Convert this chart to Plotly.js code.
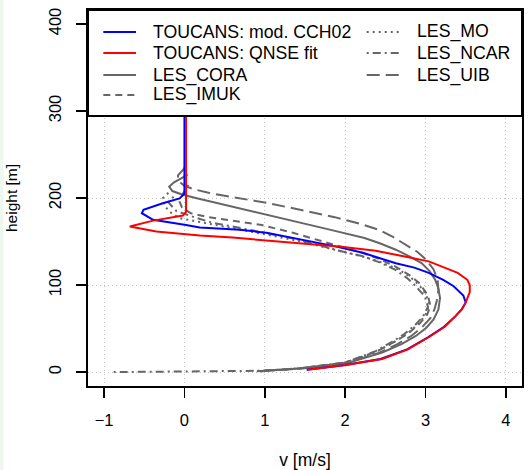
<!DOCTYPE html>
<html>
<head>
<meta charset="utf-8">
<script src="https://cdn.plot.ly/plotly-3.0.1.min.js"></script>
<style>html,body{margin:0;padding:0;background:#fff;}#chart{width:528px;height:470px;}</style>
</head>
<body>
<div id="chart"></div>
<script>
// ---- data ----
const xTicks = [-1, 0, 1, 2, 3, 4];
const yTicks = [0, 100, 200, 300, 400];

const hCORA = [1, 4.2, 11, 22.5, 32, 41.5, 51, 60.6, 72, 85, 96, 106, 116, 125.3, 133, 140.6, 148, 154, 163.4, 172, 180.6, 188, 195.8, 200, 204, 208, 213, 218, 222.5, 227];
const vCORA = [0.9, 1.43, 2.05, 2.46, 2.7, 2.88, 3.01, 3.1, 3.16, 3.18, 3.16, 3.12, 3.05, 2.95, 2.8, 2.63, 2.43, 2.24, 1.82, 1.42, 1.02, 0.66, 0.33, 0.14, -0.03, -0.15, -0.19, -0.13, -0.04, 0.04];

const hIMUK = [1, 4.5, 11, 24, 34, 44, 56, 66, 76, 88, 102.5, 112, 121.5, 130, 136.8, 144, 152, 160, 169, 174, 178, 182.5, 189, 195.8, 205, 215];
const vIMUK = [0.95, 1.45, 2.0, 2.4, 2.6, 2.78, 2.93, 3.02, 3.06, 3.03, 2.92, 2.79, 2.62, 2.42, 2.22, 1.95, 1.67, 1.35, 0.96, 0.6, 0.3, 0.08, -0.03, -0.06, -0.02, 0.05];

const hMO = [1, 4.5, 11, 24, 34, 44, 56, 66, 78, 90, 100, 110, 118, 126, 132, 141, 150, 158, 165, 172, 176.8, 182.5, 190, 199.6, 206];
const vMO = [0.95, 1.5, 2.05, 2.4, 2.6, 2.77, 2.92, 3.0, 3.05, 3.0, 2.92, 2.8, 2.66, 2.45, 2.25, 1.85, 1.45, 1.02, 0.6, 0.2, -0.06, -0.16, -0.24, -0.27, -0.2];

const hNCAR = [0, 1.5, 4.5, 11, 24, 34, 44, 54, 64, 75, 87, 98.6, 108, 117.7, 126, 133, 140, 148, 155, 161, 167, 172, 178, 185, 195, 205];
const vNCAR = [-0.88, 0.95, 1.45, 2.0, 2.38, 2.57, 2.74, 2.87, 2.97, 3.03, 2.99, 2.88, 2.77, 2.62, 2.43, 2.22, 1.9, 1.6, 1.28, 0.95, 0.6, 0.33, 0.12, -0.1, -0.2, -0.1];

const hUIB = [1, 4, 10, 22, 32, 42, 52, 62, 72, 82, 94, 106, 118, 129, 138, 146, 155, 163.4, 170, 178, 186, 194.6, 201.5, 206, 210, 214, 220, 226, 233, 240];
const vUIB = [0.95, 1.45, 2.0, 2.42, 2.65, 2.83, 2.96, 3.06, 3.11, 3.14, 3.16, 3.15, 3.1, 3.01, 2.9, 2.76, 2.6, 2.42, 2.2, 1.87, 1.47, 1.02, 0.56, 0.3, 0.12, 0.0, -0.08, -0.08, -0.01, 0.03];

const hCCH02 = [2.6, 8, 15, 26, 40, 52, 64, 72, 80, 88, 98.6, 106, 114, 120, 125, 131, 137, 145, 152, 160, 163.5, 166, 169, 175, 182.5, 186.5, 194, 199.6, 205, 250, 300, 400];
const vCCH02 = [1.52, 2.0, 2.44, 2.77, 3.03, 3.23, 3.37, 3.45, 3.5, 3.47, 3.35, 3.22, 3.04, 2.86, 2.63, 2.43, 2.22, 1.85, 1.45, 1.02, 0.69, 0.19, 0.02, -0.39, -0.53, -0.51, -0.27, -0.06, 0.0, 0.0, 0.0, 0.0];

const hQNSE = [2.6, 8, 15, 26, 40, 52, 64, 72, 80, 92, 100, 106, 114, 121, 127.2, 134.9, 139.5, 144, 148, 151, 154.5, 157, 161.5, 167.2, 174, 179.8, 184, 200, 300, 400];
const vQNSE = [1.53, 2.01, 2.46, 2.78, 3.04, 3.24, 3.37, 3.45, 3.5, 3.55, 3.55, 3.52, 3.4, 3.2, 3.04, 2.63, 2.38, 1.95, 1.45, 1.1, 0.6, 0.19, -0.35, -0.68, -0.39, -0.02, 0.02, 0.02, 0.02, 0.02];

const seriesNames = ['TOUCANS: mod. CCH02', 'TOUCANS: QNSE fit', 'LES_CORA', 'LES_IMUK', 'LES_MO', 'LES_NCAR', 'LES_UIB'];

// ---- styles ----
const GRAY = '#666666';
const styles = {
  'TOUCANS: mod. CCH02': {color: '#0000ff', dash: 'solid'},
  'TOUCANS: QNSE fit':   {color: '#ff0000', dash: 'solid'},
  'LES_CORA': {color: GRAY, dash: 'solid'},
  'LES_IMUK': {color: GRAY, dash: '7px,5px'},
  'LES_MO':   {color: GRAY, dash: '2px,4px'},
  'LES_NCAR': {color: GRAY, dash: '2px,4px,8px,4px'},
  'LES_UIB':  {color: GRAY, dash: '13px,6px'}
};
const dataMap = {
  'TOUCANS: mod. CCH02': [vCCH02, hCCH02],
  'TOUCANS: QNSE fit': [vQNSE, hQNSE],
  'LES_CORA': [vCORA, hCORA],
  'LES_IMUK': [vIMUK, hIMUK],
  'LES_MO': [vMO, hMO],
  'LES_NCAR': [vNCAR, hNCAR],
  'LES_UIB': [vUIB, hUIB]
};
const drawOrder = ['LES_CORA', 'LES_IMUK', 'LES_MO', 'LES_NCAR', 'LES_UIB', 'TOUCANS: mod. CCH02', 'TOUCANS: QNSE fit'];

const traces = drawOrder.map(n => ({
  type: 'scatter', mode: 'lines', name: n,
  x: dataMap[n][0], y: dataMap[n][1],
  line: {color: styles[n].color, width: 2, dash: styles[n].dash},
  hoverinfo: 'skip'
}));

// ---- manual legend (R style, two columns, column-major) ----
const FONT = '"Liberation Sans", Arial, Helvetica, sans-serif';
const rowsY = [0.9415, 0.8856, 0.8271, 0.774];
const cols = [{x0: 0.0353, x1: 0.1106, tx: 0.1452}, {x0: 0.6422, x1: 0.7175, tx: 0.7535}];
const shapes = [
  {type: 'rect', xref: 'paper', yref: 'paper', x0: -0.2028, x1: -0.1947, y0: -0.2234, y1: 1.0266,
   fillcolor: '#eef8ee', line: {width: 0}, layer: 'below'},
  {type: 'rect', xref: 'paper', yref: 'paper', x0: 0, x1: 1, y0: 0.7180, y1: 1,
   fillcolor: '#ffffff', line: {color: '#000000', width: 2}, layer: 'above'}
];
const annotations = [];
seriesNames.forEach((n, i) => {
  const c = cols[i < 4 ? 0 : 1];
  const y = rowsY[i < 4 ? i : i - 4];
  shapes.push({type: 'line', xref: 'paper', yref: 'paper', x0: c.x0, x1: c.x1, y0: y, y1: y,
    line: {color: styles[n].color, width: 2, dash: styles[n].dash}, layer: 'above'});
  annotations.push({xref: 'paper', yref: 'paper', x: c.tx, y: y, text: n, showarrow: false,
    xanchor: 'left', yanchor: 'middle', font: {family: FONT, size: 17.7, color: '#000'}});
});

const axisCommon = {
  showgrid: true, gridcolor: '#c4c4c4', gridwidth: 1, griddash: '1px,3px',
  zeroline: false, showline: true, mirror: true, linecolor: '#000', linewidth: 2,
  ticks: 'outside', ticklen: 10, tickwidth: 1.5, tickcolor: '#000',
  ticklabelstandoff: 8,
  tickfont: {family: FONT, size: 16.5, color: '#000'}
};

const layout = {
  width: 528, height: 470,
  margin: {l: 88, r: 6, t: 10, b: 84},
  paper_bgcolor: '#fff', plot_bgcolor: '#fff',
  showlegend: false, hovermode: false,
  font: {family: FONT, color: '#000'},
  xaxis: Object.assign({}, axisCommon, {
    range: [-1.2, 4.2], tickvals: xTicks, ticktext: xTicks.map(v => v < 0 ? '\u2212' + Math.abs(v) : String(v)),
    title: {text: 'v [m/s]', font: {family: FONT, size: 17.5, color: '#000'}, standoff: 30}
  }),
  yaxis: Object.assign({}, axisCommon, {
    range: [-16, 416], tickvals: yTicks, ticktext: yTicks.map(String), tickangle: -90,
    title: {text: 'height [m]', font: {family: FONT, size: 15.5, color: '#000'}, standoff: 25}
  }),
  shapes: shapes,
  annotations: annotations
};

Plotly.newPlot('chart', traces, layout, {staticPlot: true, displayModeBar: false});
</script>
</body>
</html>
